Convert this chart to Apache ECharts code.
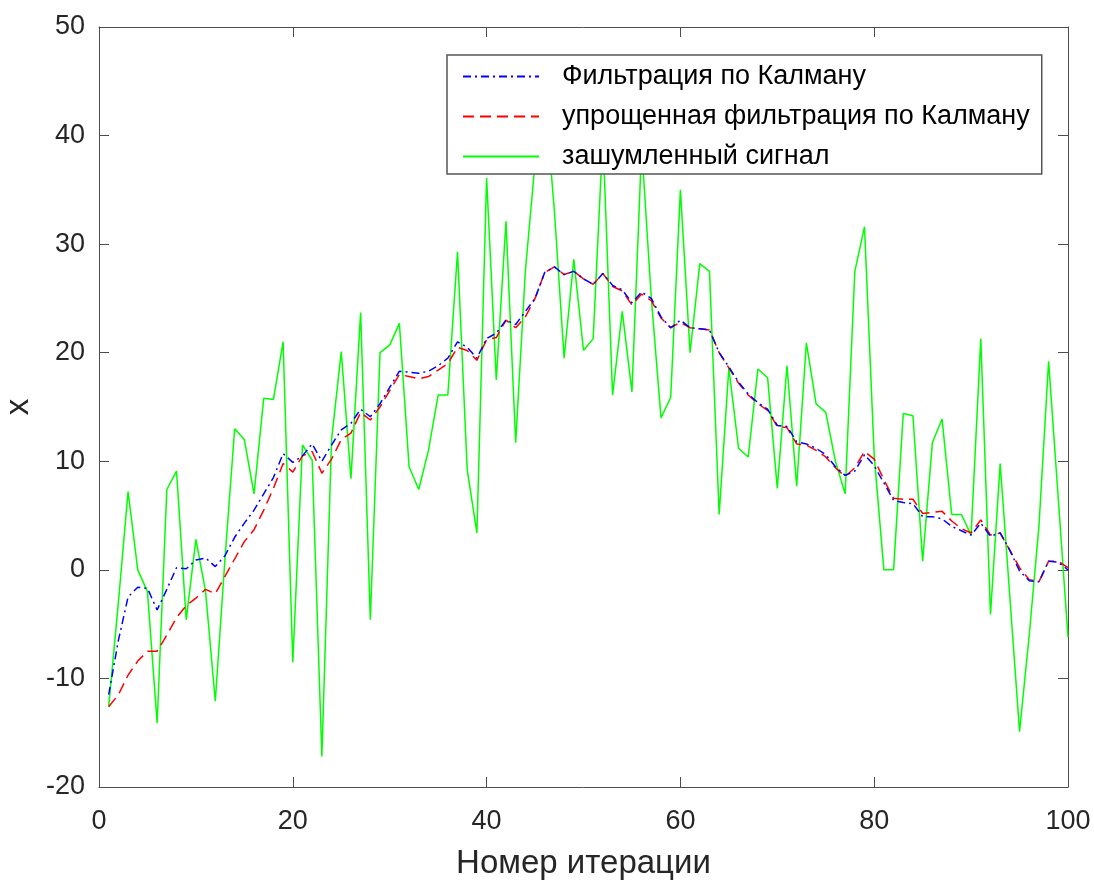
<!DOCTYPE html>
<html>
<head>
<meta charset="utf-8">
<script src="https://cdn.jsdelivr.net/npm/echarts@6/dist/echarts.min.js"></script>
<style>
  html, body { margin: 0; padding: 0; background: #fff; }
  #chart { width: 1094px; height: 880px; }
</style>
</head>
<body>
<div id="chart"></div>
<script>
// зашумленный сигнал, итерации 1..100
var noisy = [
  -12.6, -3, 7.2, 0, -2, -14.1, 7.4, 9.1, -4.6, 2.8,
  -2, -12.1, 1, 13, 12, 7, 15.8, 15.7, 21, -8.5,
  11.5, 10.1, -17.2, 12, 20.1, 8.4, 23.7, -4.6, 20, 20.7,
  22.7, 9.5, 7.4, 11, 16.1, 16.1, 29.3, 9.2, 3.4, 36.1,
  17.5, 32.1, 11.7, 27.5, 37.5, 44, 33, 19.5, 28.6, 20.2,
  21.3, 40, 16.1, 23.8, 16.4, 39, 25, 14.0, 15.9, 35.0,
  20.0, 28.2, 27.5, 5.1, 18.6, 11.2, 10.4, 18.5, 17.7, 7.5,
  18.8, 7.7, 20.9, 15.3, 14.5, 10, 7.0, 27.5, 31.6, 10.5,
  0, 0, 14.4, 14.2, 0.8, 11.7, 13.9, 5.1, 5.1, 3.2,
  21.3, -4.1, 9.8, -2.5, -14.9, -6, 4, 19.2, 6.5, -6.2
];
// фильтрация по Калману
var kalman = [
  -11.5, -6.5, -2.5, -1.6, -1.7, -3.7, -1.8, 0.2, 0.1, 0.9,
  1.1, 0.3, 1.3, 3.0, 4.3, 5.5, 7.0, 8.5, 10.7, 9.9,
  10.5, 11.6, 10.0, 11.5, 12.9, 13.5, 14.8, 14.1, 15.3, 16.8,
  18.3, 18.2, 18.1, 18.3, 18.8, 19.5, 21.0, 20.5, 19.5, 21.3,
  21.8, 23.0, 22.6, 23.8, 25.0, 27.4, 27.9, 27.2, 27.5, 26.8,
  26.3, 27.3, 26.2, 25.8, 24.6, 25.6, 25.0, 23.3, 22.3, 23.0,
  22.3, 22.2, 22.1, 20.0, 18.7, 17.3, 16.2, 15.4, 14.8, 13.3,
  13.2, 11.8, 11.6, 11.2, 10.6, 9.5, 8.7, 9.1, 10.6, 9.6,
  8.0, 6.4, 6.2, 6.1, 4.9, 4.9, 4.7, 4.0, 3.6, 3.2,
  4.3, 3.1, 3.4, 1.8, -0.1, -1.0, -1.1, 0.8, 0.7, 0.0
];
// упрощенная фильтрация по Калману
var simple = [
  -12.6, -11.5, -9.7, -8.4, -7.5, -7.5, -6.0, -4.4, -3.3, -2.6,
  -1.8, -2.2, -0.6, 1.0, 2.6, 3.7, 5.5, 7.5, 9.8, 9.0,
  10.5, 10.9, 8.9, 10.2, 12.0, 12.6, 14.5, 13.8, 15.0, 16.5,
  18.0, 17.8, 17.6, 17.8, 18.4, 19.0, 20.5, 20.2, 19.3, 21.2,
  21.4, 23.0, 22.3, 23.3, 25.0, 27.4, 27.9, 27.2, 27.5, 26.8,
  26.3, 27.3, 26.1, 25.7, 24.4, 25.4, 24.8, 23.2, 22.3, 22.8,
  22.3, 22.2, 22.1, 20.0, 18.6, 17.2, 16.1, 15.3, 14.7, 13.2,
  13.1, 11.6, 11.5, 11.0, 10.4, 9.4, 8.6, 9.4, 10.9, 10.2,
  8.3, 6.6, 6.5, 6.5, 5.2, 5.3, 5.4, 4.5, 3.8, 3.4,
  4.6, 3.2, 3.4, 1.8, 0.2, -0.9, -1.1, 0.8, 0.8, 0.2
];
var names = ['Фильтрация по Калману', 'упрощенная фильтрация по Калману', 'зашумленный сигнал'];

function pairs(arr) {
  return arr.map(function (v, i) { return [i + 1, v]; });
}

var font = 'Liberation Sans, Arial, sans-serif';
var axisColor = '#4d4d4d';
var tickFont = { fontSize: 27, color: '#262626', fontFamily: font };

var chart = echarts.init(document.getElementById('chart'));
chart.setOption({
  animation: false,
  backgroundColor: '#fff',
  grid: { left: 99, right: 26, top: 27, bottom: 93, containLabel: false, outerBoundsMode: 'none' },
  legend: {
    data: names,
    orient: 'vertical',
    left: 447,
    top: 55,
    padding: [8, 12, 4, 15],
    itemGap: 13,
    itemWidth: 76,
    itemHeight: 14,
    borderColor: '#555',
    borderWidth: 1.5,
    borderRadius: 0,
    backgroundColor: '#fff',
    itemStyle: { opacity: 0 },
    textStyle: { fontSize: 27, lineHeight: 26, color: '#000', fontFamily: font, padding: [0, 0, 0, 18] },
    z: 10
  },
  xAxis: [
    {
      type: 'value', min: 0, max: 100, interval: 20,
      name: 'Номер итерации', nameLocation: 'middle', nameGap: 60,
      nameTextStyle: { fontSize: 33, color: '#262626', fontFamily: font },
      axisLine: { show: true, onZero: false, lineStyle: { color: axisColor, width: 1 } },
      axisTick: { show: true, inside: true, length: 10, lineStyle: { color: axisColor } },
      axisLabel: Object.assign({ margin: 21 }, tickFont),
      splitLine: { show: false }
    },
    {
      type: 'value', min: 0, max: 100, interval: 20, position: 'top',
      axisLine: { show: true, onZero: false, lineStyle: { color: axisColor, width: 1 } },
      axisTick: { show: true, inside: true, length: 10, lineStyle: { color: axisColor } },
      axisLabel: { show: false },
      splitLine: { show: false }
    }
  ],
  yAxis: [
    {
      type: 'value', min: -20, max: 50, interval: 10,
      name: 'x', nameLocation: 'middle', nameGap: 62, nameRotate: 90,
      nameTextStyle: { fontSize: 33, color: '#262626', fontFamily: font },
      axisLine: { show: true, onZero: false, lineStyle: { color: axisColor, width: 1 } },
      axisTick: { show: true, inside: true, length: 10, lineStyle: { color: axisColor } },
      axisLabel: Object.assign({ margin: 14 }, tickFont),
      splitLine: { show: false }
    },
    {
      type: 'value', min: -20, max: 50, interval: 10, position: 'right',
      axisLine: { show: true, onZero: false, lineStyle: { color: axisColor, width: 1 } },
      axisTick: { show: true, inside: true, length: 10, lineStyle: { color: axisColor } },
      axisLabel: { show: false },
      splitLine: { show: false }
    }
  ],
  series: [
    {
      name: names[2], type: 'line', data: pairs(noisy), symbol: 'none', z: 2,
      lineStyle: { color: '#00ff00', width: 1.5, type: 'solid' },
      itemStyle: { color: '#00ff00' }
    },
    {
      name: names[1], type: 'line', data: pairs(simple), symbol: 'none', z: 3,
      lineStyle: { color: '#ff0000', width: 1.5, type: [11, 6] },
      itemStyle: { color: '#ff0000' }
    },
    {
      name: names[0], type: 'line', data: pairs(kalman), symbol: 'none', z: 4,
      lineStyle: { color: '#0000ff', width: 1.5, type: [8, 4, 2, 4] },
      itemStyle: { color: '#0000ff' }
    }
  ]
});
</script>
</body>
</html>
